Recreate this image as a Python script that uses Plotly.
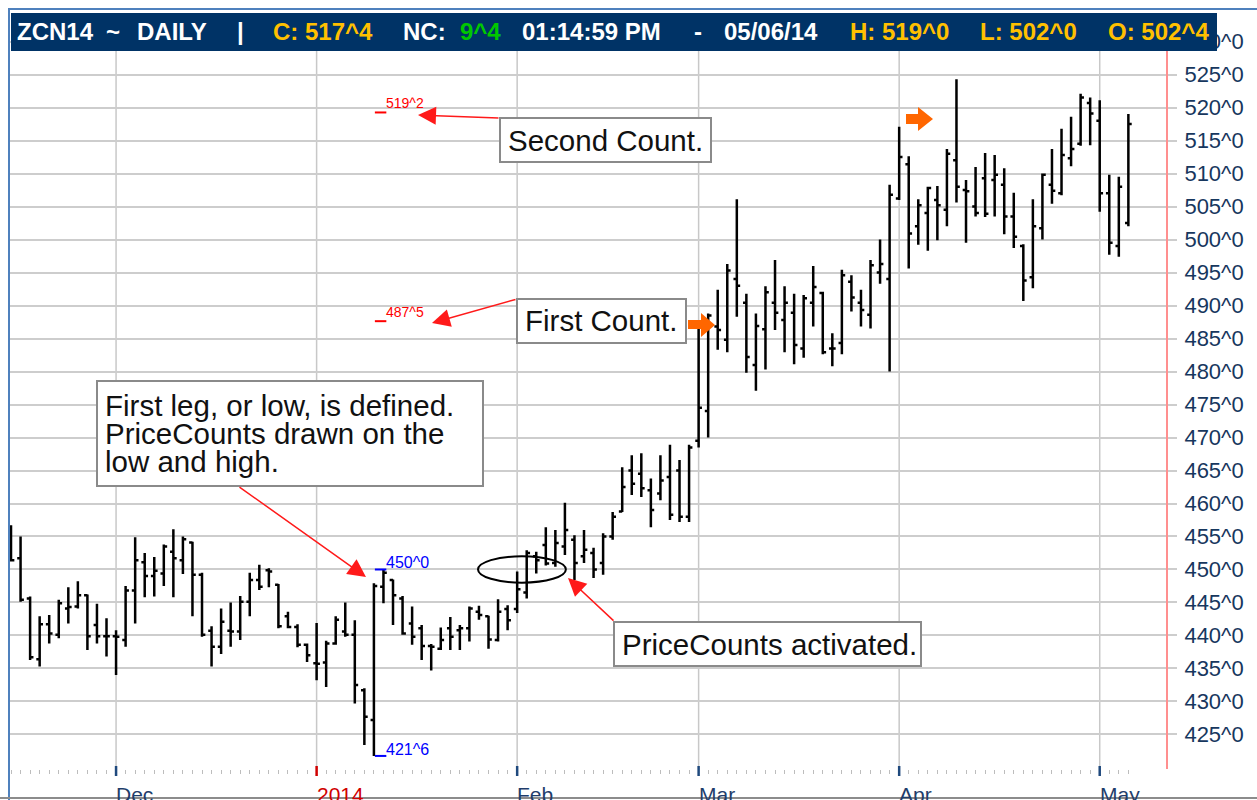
import plotly.graph_objects as go
import math

# ---------------- data ----------------
nov_days = [14, 15, 18, 19, 20, 21, 22, 25, 26, 27, 29]
dec_days = [2, 3, 4, 5, 6, 9, 10, 11, 12, 13, 16, 17, 18, 19, 20, 23, 24, 26, 27, 30, 31]
jan_days = [2, 3, 6, 7, 8, 9, 10, 13, 14, 15, 16, 17, 21, 22, 23, 24, 27, 28, 29, 30, 31]
feb_days = [3, 4, 5, 6, 7, 10, 11, 12, 13, 14, 18, 19, 20, 21, 24, 25, 26, 27, 28]
mar_days = [3, 4, 5, 6, 7, 10, 11, 12, 13, 14, 17, 18, 19, 20, 21, 24, 25, 26, 27, 28, 31]
apr_days = [1, 2, 3, 4, 7, 8, 9, 10, 11, 14, 15, 16, 17, 21, 22, 23, 24, 25, 28, 29, 30]
may_days = [1, 2, 5, 6]

dates = ([f"2013-11-{d:02d}" for d in nov_days] + [f"2013-12-{d:02d}" for d in dec_days]
         + [f"2014-01-{d:02d}" for d in jan_days] + [f"2014-02-{d:02d}" for d in feb_days]
         + [f"2014-03-{d:02d}" for d in mar_days] + [f"2014-04-{d:02d}" for d in apr_days]
         + [f"2014-05-{d:02d}" for d in may_days])

opens = [452.4, 451.7, 445.6, 436.4, 441.7, 440.1, 444.1, 444.4, 446.1, 441.6, 439.9,
         439.9, 439.3, 446.8, 451.1, 449.0, 449.4, 452.7, 451.4, 454.1, 449.2, 440.7,
         438.3, 440.7, 440.6, 445.1, 448.4, 449.9, 447.7, 442.9, 441.3, 438.6,
         435.8, 435.9, 438.8, 440.6, 440.1, 431.7, 427.2, 447.4, 448.4, 445.6, 441.8,
         441.1, 438.4, 438.0, 441.1, 440.8, 441.1, 443.6, 442.9, 439.3, 444.0,
         444.0, 446.5, 452.0, 453.7, 451.0, 453.5, 454.5, 452.0, 452.5, 451.0, 455.0,
         458.8, 465.0, 464.5, 462.0, 461.5, 464.0, 465.0, 458.0,
         469.5, 474.0, 486.8, 484.8, 494.0, 490.4, 481.0, 486.4, 490.4, 487.8, 488.9,
         483.5, 490.4, 491.9, 483.5, 484.3, 493.6, 490.4, 488.6, 495.0, 494.0,
         506.2, 511.4, 502.0, 504.0, 506.0, 504.5, 512.0, 507.5, 505.0, 509.3, 509.0,
         508.3, 503.5, 499.0, 494.3, 501.7, 508.3, 507.0, 512.3, 514.5, 520.7,
         518.0, 507.0, 499.0, 502.5]
highs = [456.7, 455.0, 445.9, 442.9, 443.1, 445.4, 447.3, 448.2, 446.2, 444.8, 442.6,
         440.8, 447.5, 454.9, 452.5, 451.9, 453.8, 456.1, 455.0, 454.2, 449.5, 441.4,
         444.1, 445.0, 446.0, 449.5, 450.7, 450.2, 447.8, 443.6, 441.7, 438.8,
         441.9, 439.2, 442.9, 445.0, 442.3, 432.0, 447.9, 450.0, 448.5, 446.0, 444.4,
         441.6, 438.7, 441.2, 442.8, 441.6, 444.4, 444.5, 443.0, 445.5, 444.6,
         449.7, 452.9, 452.7, 456.4, 456.0, 460.1, 455.2, 456.0, 453.3, 455.5, 458.7,
         465.5, 467.3, 467.6, 463.8, 467.3, 468.9, 466.6, 468.9,
         486.5, 488.8, 492.4, 496.3, 506.1, 491.8, 488.8, 492.9, 496.9, 492.9, 491.8,
         491.6, 496.0, 492.1, 485.8, 495.4, 494.6, 492.4, 496.9, 500.0, 508.3,
         517.1, 512.6, 506.1, 508.0, 508.1, 513.7, 524.3, 509.0, 511.0, 513.1, 512.8,
         510.8, 507.1, 499.3, 506.1, 510.0, 513.7, 516.8, 518.6, 522.1, 521.5,
         521.1, 509.8, 509.5, 519.0]
lows = [451.2, 445.1, 436.3, 435.3, 438.8, 439.6, 441.8, 444.1, 437.8, 438.8, 436.8,
        434.0, 438.3, 441.8, 445.8, 445.9, 447.5, 445.8, 449.3, 442.9, 439.8, 435.3,
        437.2, 438.3, 439.3, 442.9, 446.9, 447.3, 441.1, 441.1, 438.2, 436.0,
        433.2, 432.2, 438.6, 439.8, 429.7, 423.4, 421.75, 444.9, 441.6, 440.1, 438.6,
        436.3, 434.7, 437.8, 437.8, 437.8, 439.1, 442.4, 438.0, 439.1, 440.8,
        443.4, 445.6, 449.4, 450.6, 450.4, 452.2, 448.4, 451.0, 448.7, 449.2, 454.5,
        458.7, 461.3, 461.0, 456.4, 460.5, 457.5, 457.2, 457.2,
        468.5, 470.0, 483.3, 482.9, 488.3, 479.8, 477.1, 480.3, 486.3, 482.9, 481.1,
        482.1, 486.8, 482.6, 480.8, 482.6, 489.1, 486.8, 486.5, 493.3, 480.0,
        506.0, 495.6, 499.2, 498.3, 499.9, 502.0, 505.6, 499.5, 503.5, 503.4, 503.5,
        500.8, 498.7, 490.7, 492.6, 500.0, 505.4, 506.7, 511.1, 514.2, 514.3,
        504.2, 497.7, 497.4, 502.0]
closes = [451.4, 445.4, 436.7, 441.7, 440.3, 444.9, 444.3, 446.1, 439.9, 439.9, 439.9,
          439.8, 446.8, 451.4, 449.0, 449.8, 453.5, 451.7, 454.6, 449.2, 440.1, 438.3,
          442.1, 440.6, 445.1, 448.4, 447.4, 449.7, 441.4, 441.3, 438.6, 437.0,
          435.7, 438.8, 442.4, 440.1, 432.5, 427.7, 447.5, 449.5, 446.1, 440.3, 439.8,
          438.4, 438.3, 439.3, 439.8, 441.1, 444.1, 443.1, 439.4, 443.6, 442.3,
          447.0, 452.5, 451.4, 450.9, 454.0, 456.0, 451.0, 453.0, 450.0, 455.0, 458.0,
          462.5, 463.0, 462.3, 459.0, 463.5, 458.3, 458.0, 468.5,
          474.5, 488.5, 486.3, 495.3, 493.0, 482.2, 486.9, 492.0, 488.9, 490.4, 484.0,
          491.1, 492.8, 482.9, 483.5, 494.6, 491.2, 489.3, 496.1, 496.3, 506.8,
          512.5, 500.9, 505.2, 507.8, 505.2, 513.0, 508.0, 507.3, 504.0, 503.9, 509.8,
          503.5, 500.4, 493.8, 502.0, 509.8, 507.4, 512.8, 513.7, 521.5, 519.1,
          507.0, 499.5, 508.0, 517.5]

# PriceCount levels (low/high of first leg and projected counts)
leg_low = 421.75
leg_high = 450.0
first_count = 487.625
second_count = 519.25

y_ticks = list(range(425, 531, 5))
month_labels = ["Dec", "2014", "Feb", "Mar", "Apr", "May"]
month_first_days = ["2013-12-02", "2014-01-02", "2014-02-03", "2014-03-03", "2014-04-01", "2014-05-01"]
header_time = "01:14:59 PM"


def eighths(v):
    w = math.floor(v + 1e-9)
    f = int(round((v - w) * 8))
    if f == 8:
        w, f = w + 1, 0
    return f"{w}^{f}"


# ---------------- geometry helpers (pixel -> paper) ----------------
W, H = 1257, 800
PL, PR, PT, PB = 9, 1166, 40, 769


def px(x):
    return (x - PL) / (PR - PL)


def py(y):
    return (PB - y) / (PB - PT)


FONT = "Liberation Sans, Arial, sans-serif"
NAVY = "#17375e"

fig = go.Figure()
fig.add_trace(go.Ohlc(
    x=dates, open=opens, high=highs, low=lows, close=closes,
    increasing=dict(line=dict(color="black", width=2.5)),
    decreasing=dict(line=dict(color="black", width=2.5)),
    tickwidth=0.35, hoverinfo="skip", showlegend=False,
))

shapes = []
# month gridlines
for d in month_first_days:
    shapes.append(dict(type="line", xref="x", yref="paper", x0=d, x1=d, y0=0, y1=1,
                       line=dict(color="#c8c8c8", width=1.5), layer="below"))
# month tick marks
for d, lab in zip(month_first_days, month_labels):
    col = "#d00000" if lab == "2014" else "#1f497d"
    shapes.append(dict(type="line", xref="x", yref="paper", x0=d, x1=d, y0=py(766), y1=py(776),
                       line=dict(color=col, width=2.5), layer="above"))

# PriceCount marker lines (start at the bar that made the first-leg low)
i_low = lows.index(leg_low)
for lvl, col in [(second_count, "#ff0000"), (first_count, "#ff0000"),
                 (leg_high, "#0000ff"), (leg_low, "#0000ff")]:
    shapes.append(dict(type="line", xref="x", yref="y", x0=i_low + 0.1, x1=i_low + 1.3,
                       y0=lvl, y1=lvl, line=dict(color=col, width=2), layer="above"))

# ellipse "PriceCounts activated"
shapes.append(dict(type="circle", xref="x", yref="y", x0=48.9, x1=58.1, y0=448.0, y1=452.0,
                   line=dict(color="black", width=2), layer="above"))

# callout boxes
boxes = [(97, 381, 483, 486), (500, 118, 711, 162), (517, 299, 686, 343), (614, 622, 921, 666)]
for x0, y0, x1, y1 in boxes:
    shapes.append(dict(type="rect", xref="paper", yref="paper", x0=px(x0), x1=px(x1),
                       y0=py(y1), y1=py(y0), fillcolor="white",
                       line=dict(color="#8a8a8a", width=2), layer="above"))


def poly(pts):
    return "M " + " L ".join(f"{px(a):.5f},{py(b):.5f}" for a, b in pts) + " Z"


orange_arrows = [
    [(688, 320), (701, 320), (701, 313), (715, 325), (701, 337), (701, 329), (688, 329)],
    [(906, 114), (918, 114), (918, 107), (933, 119), (918, 131), (918, 124), (906, 124)],
]
for pts in orange_arrows:
    shapes.append(dict(type="path", xref="paper", yref="paper", path=poly(pts),
                       fillcolor="#ff6600", line=dict(color="#ff6600", width=0), layer="above"))

# header bar and frame
shapes.append(dict(type="rect", xref="paper", yref="paper", x0=px(11), x1=px(1217),
                   y0=py(51), y1=py(13), fillcolor="#003366", line=dict(width=0), layer="above"))
shapes.append(dict(type="line", xref="paper", yref="paper", x0=px(8), x1=px(1257),
                   y0=py(9), y1=py(9), line=dict(color="#4f81bd", width=2), layer="above"))
shapes.append(dict(type="line", xref="paper", yref="paper", x0=px(9), x1=px(9),
                   y0=py(9), y1=py(800), line=dict(color="#4f81bd", width=2), layer="above"))
shapes.append(dict(type="line", xref="paper", yref="paper", x0=px(0), x1=px(1257),
                   y0=py(798), y1=py(798), line=dict(color="#8c8c8c", width=2), layer="above"))

ann = []
# header text
GOLD, WHITE, GREEN = "#ffc000", "#ffffff", "#00c800"
net = closes[-1] - closes[-2]
mm, dd, yy = dates[-1][5:7], dates[-1][8:10], dates[-1][2:4]
header = [("ZCN14", 15, WHITE), ("~", 104, WHITE), ("DAILY", 135, WHITE), ("|", 235, WHITE),
          (f"C: {eighths(closes[-1])}", 271, GOLD), ("NC:", 401, WHITE), (eighths(net), 458, GREEN),
          (header_time, 520, WHITE), ("-", 692, WHITE), (f"{mm}/{dd}/{yy}", 722, WHITE),
          (f"H: {eighths(highs[-1])}", 848, GOLD), (f"L: {eighths(lows[-1])}", 978, GOLD),
          (f"O: {eighths(opens[-1])}", 1106, GOLD)]
for t, x, c in header:
    ann.append(dict(text=f"<b>{t}</b>", xref="paper", yref="paper", x=px(x), y=py(32),
                    xanchor="left", yanchor="middle", showarrow=False,
                    font=dict(family=FONT, size=24, color=c)))

# month labels
for d, lab in zip(month_first_days, month_labels):
    col = "#d00000" if lab == "2014" else "#1f3d6b"
    ann.append(dict(text=lab, xref="x", yref="paper", x=d, y=py(781), xanchor="left",
                    yanchor="top", showarrow=False, xshift=-2,
                    font=dict(family=FONT, size=21, color=col)))

# price count labels
for lvl, col, sz, sh in [(second_count, "#ff0000", 14, 9), (first_count, "#ff0000", 14, 9),
                         (leg_high, "#0000ff", 16, 7), (leg_low, "#0000ff", 16, 6)]:
    ann.append(dict(text=eighths(lvl), xref="x", yref="y", x=i_low + 1.3, y=lvl,
                    xanchor="left", yanchor="middle", yshift=sh, xshift=-2, showarrow=False,
                    font=dict(family=FONT, size=sz, color=col)))

# callout texts
texts = [("First leg, or low, is defined.", 103, 405), ("PriceCounts drawn on the", 103, 433),
         ("low and high.", 103, 461), ("Second Count.", 506, 140), ("First Count.", 523, 321),
         ("PriceCounts activated.", 620, 644)]
for t, x, y in texts:
    ann.append(dict(text=t, xref="paper", yref="paper", x=px(x), y=py(y), xanchor="left",
                    yanchor="middle", showarrow=False,
                    font=dict(family=FONT, size=29.5, color="#111111")))

# red arrows (tail -> tip)
arrows = [((238, 486), (366, 577)), ((615, 622), (568, 578)),
          ((517, 299), (432, 323)), ((500, 118), (418, 115))]
for (tx, ty), (hx, hy) in arrows:
    ann.append(dict(text="", xref="paper", yref="paper", x=px(hx), y=py(hy),
                    ax=tx - hx, ay=ty - hy, showarrow=True, arrowhead=2, arrowsize=2.4,
                    arrowwidth=1.5, arrowcolor="#ff1a1a", standoff=0, startstandoff=0))

fig.update_layout(
    width=W, height=H, margin=dict(l=PL, r=W - PR, t=PT, b=H - PB, autoexpand=False),
    paper_bgcolor="white", plot_bgcolor="white", showlegend=False,
    shapes=shapes, annotations=ann,
    xaxis=dict(type="category", categoryorder="array", categoryarray=dates,
               range=[-0.21, 120.94], rangeslider=dict(visible=False), showgrid=False,
               tickvals=dates, ticktext=[""] * len(dates), ticks="outside", ticklen=4,
               tickcolor="#bdbdbd", tickwidth=1, showline=False, zeroline=False),
    yaxis=dict(side="right", range=[419.77, 530.23], tickvals=y_ticks,
               ticktext=[eighths(v) for v in y_ticks], showgrid=True, gridcolor="#cdcdcd",
               gridwidth=1.5, ticks="outside", ticklen=9, tickcolor="#cdcdcd", tickwidth=1.5,
               showline=True, linecolor="#ff8f8f", linewidth=2, zeroline=False,
               ticklabelstandoff=3, tickfont=dict(family=FONT, size=22, color=NAVY)),
)

fig.write_html("out.html", config={"displayModeBar": False},
               post_script="document.body.style.margin='0px';document.body.style.overflow='hidden';")
